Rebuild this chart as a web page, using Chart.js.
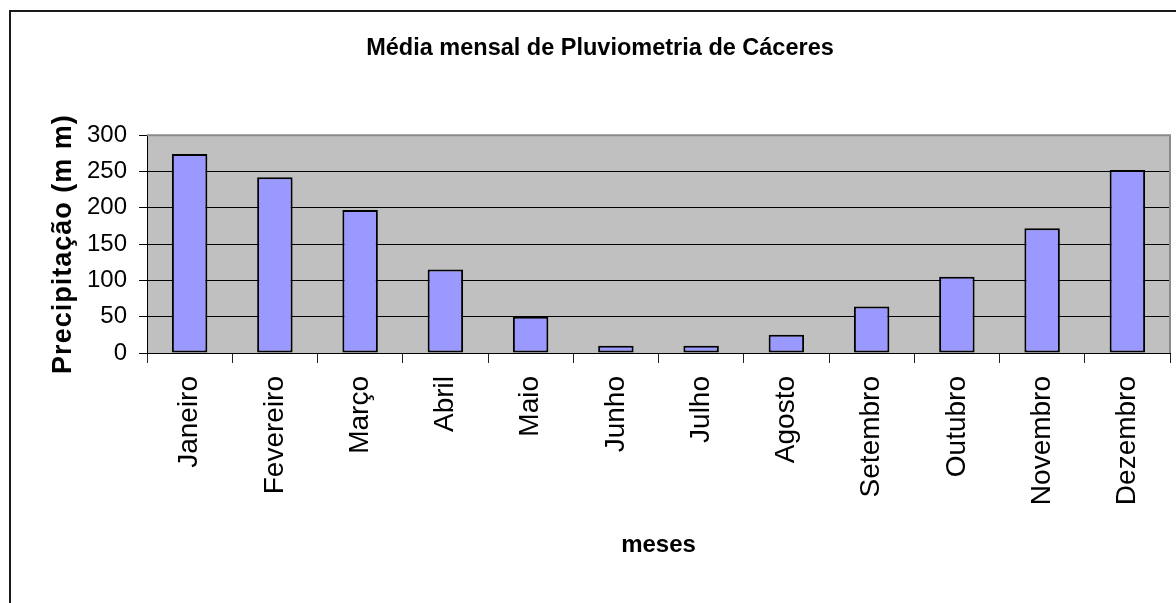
<!DOCTYPE html>
<html><head><meta charset="utf-8">
<script src="https://cdn.jsdelivr.net/npm/chart.js@4"></script>
<style>
html,body{margin:0;padding:0;background:#fff;overflow:hidden;}
#wrap{position:relative;width:1176px;height:603px;overflow:hidden;}
#frame{position:absolute;left:9px;top:10px;width:2000px;height:2000px;border:2px solid #1a1a1a;box-sizing:border-box;}
canvas{position:absolute;left:0;top:0;}
</style></head><body>
<div id="wrap"><div id="frame"></div><canvas id="c" width="1176" height="603"></canvas></div>
<script>
const months = ['Janeiro','Fevereiro','Março','Abril','Maio','Junho','Julho','Agosto','Setembro','Outubro','Novembro','Dezembro'];
const rainfall = [274, 242, 197, 115, 50, 10, 10, 25, 64, 105, 172, 252];
const yMin = 0, yMax = 300, yStep = 50;
const chartTitle = 'Média mensal de Pluviometria de Cáceres';
const yTitle = 'Precipitação (m m)';
const xTitle = 'meses';

const FONT = "'Liberation Sans', Arial, sans-serif";

function wrapSpacing(obj, name, sp){
  if (!obj || !obj[name] || obj[name].__wrapped) return;
  const orig = obj[name];
  const w = function(...args){
    const ctx = this.ctx;
    const prev = ctx.letterSpacing;
    ctx.letterSpacing = sp;
    try { return orig.apply(this, args); } finally { ctx.letterSpacing = prev; }
  };
  w.__wrapped = true;
  obj[name] = w;
}

const plotBg = {
  id: 'plotBg',
  beforeDraw(chart){
    wrapSpacing(chart.scales.y, 'drawTitle', '1px');
    const {ctx, chartArea:a} = chart;
    ctx.save();
    ctx.fillStyle = '#C0C0C0';
    ctx.fillRect(a.left, a.top, a.right - a.left, a.bottom - a.top);
    ctx.restore();
  },
  beforeDatasetsDraw(chart){
    const {ctx, chartArea:a} = chart;
    ctx.save();
    ctx.strokeStyle = '#8a8a8a';
    ctx.lineWidth = 2;
    ctx.beginPath();
    ctx.moveTo(a.left, a.top);
    ctx.lineTo(a.right, a.top);
    ctx.lineTo(a.right, a.bottom);
    ctx.stroke();
    ctx.restore();
  }
};

new Chart(document.getElementById('c'), {
  type: 'bar',
  data: {
    labels: months,
    datasets: [{
      data: rainfall,
      backgroundColor: '#9999FF',
      borderColor: '#000000',
      borderWidth: 2,
      borderSkipped: false,
      categoryPercentage: 0.8,
      barPercentage: 0.52
    }]
  },
  options: {
    responsive: false,
    animation: false,
    layout: { padding: { left: 30, right: 6, top: 0, bottom: 0 } },
    plugins: {
      legend: { display: false },
      tooltip: { enabled: false },
      title: {
        display: true,
        text: chartTitle,
        color: '#000',
        font: { family: FONT, size: 23.5, weight: 'bold', lineHeight: 1.2 },
        padding: { top: 34, bottom: 73 }
      }
    },
    scales: {
      x: {
        offset: true,
        grid: { display: true, drawOnChartArea: false, drawTicks: true, tickLength: 10, tickColor: '#222', offset: true },
        border: { display: true, color: '#000', width: 1 },
        ticks: {
          color: '#000', autoSkip: false, minRotation: 90, maxRotation: 90, padding: 13,
          font: { family: FONT, size: 28 }
        },
        title: {
          display: true, text: xTitle, color: '#000',
          font: { family: FONT, size: 24, weight: 'bold', lineHeight: 1.2 },
          padding: { top: 0, bottom: 43.6 }
        },
        afterFit(scale){ scale.height = 250; }
      },
      y: {
        min: yMin, max: yMax,
        grid: {
          color: (c) => (c.tick && c.tick.value === yMax) ? '#8a8a8a' : '#000',
          lineWidth: 1, drawTicks: true, tickLength: 8, tickColor: '#000'
        },
        border: { display: true, color: '#000', width: 1 },
        ticks: {
          stepSize: yStep, color: '#000', padding: 12,
          font: { family: FONT, size: 24 }
        },
        title: {
          display: true, text: yTitle, color: '#000',
          font: { family: FONT, size: 27, weight: 'bold', lineHeight: 1.2 },
          padding: { top: 17.3, bottom: 0 }
        },
        afterFit(scale){ scale.width = 117; }
      }
    }
  },
  plugins: [plotBg]
});
</script>
</body></html>
